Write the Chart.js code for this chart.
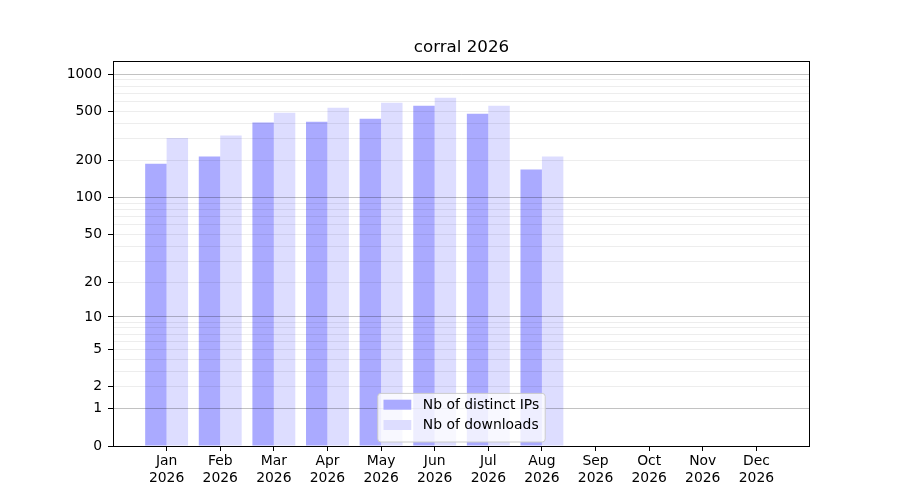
<!DOCTYPE html>
<html>
<head>
<meta charset="utf-8">
<script src="https://cdn.jsdelivr.net/npm/chart.js@4"></script>
<style>
  html, body { margin: 0; padding: 0; background: #fff; }
  #wrap { width: 900px; height: 500px; }
</style>
</head>
<body>
<div id="wrap"><canvas id="chart" width="900" height="500"></canvas></div>
<script>
// data
const monthLabels = ['Jan', 'Feb', 'Mar', 'Apr', 'May', 'Jun', 'Jul', 'Aug', 'Sep', 'Oct', 'Nov', 'Dec'];
const yearLabel = '2026';
const distinctIps = [188, 215, 405, 412, 436, 555, 478, 169];
const downloads = [304, 318, 487, 535, 587, 643, 555, 215];

// y axis is log10(1 + v)
const gridValues = [0, 1, 2, 3, 4, 5, 6, 7, 8, 9, 10, 20, 30, 40, 50, 60, 70, 80, 90,
    100, 200, 300, 400, 500, 600, 700, 800, 900, 1000];
const labelValues = [0, 1, 2, 5, 10, 20, 50, 100, 200, 500, 1000];
const majorValues = [1, 10, 100, 1000];
const yTop = 1273;

const FONT = 'DejaVu Sans';
const tf = v => Math.log10(1 + v);

const toPoints = arr => arr.map((v, i) => ({ x: i, y: tf(v) }));

// matplotlib-ish frame + legend inside the plot
const framePlugin = {
    id: 'frame',
    afterDraw(chart) {
        const { ctx, chartArea: a } = chart;
        ctx.save();
        ctx.strokeStyle = '#000';
        ctx.lineWidth = 1;
        ctx.strokeRect(Math.round(a.left) + 0.5, Math.round(a.top) + 0.5,
            Math.round(a.right - a.left) - 1, Math.round(a.bottom - a.top));

        // legend
        const items = chart.data.datasets.map(d => ({ text: d.label, color: d.backgroundColor }));
        ctx.font = '13.9px "' + FONT + '"';
        const textW = Math.max(...items.map(it => ctx.measureText(it.text).width));
        const w = 45 + textW + 6;
        const h = 48.6;
        const x = (a.left + a.right) / 2 - w / 2;
        const y = a.bottom - 4 - h;
        const r = 3;
        ctx.beginPath();
        ctx.moveTo(x + r, y);
        ctx.arcTo(x + w, y, x + w, y + h, r);
        ctx.arcTo(x + w, y + h, x, y + h, r);
        ctx.arcTo(x, y + h, x, y, r);
        ctx.arcTo(x, y, x + w, y, r);
        ctx.closePath();
        ctx.fillStyle = 'rgba(255,255,255,0.8)';
        ctx.fill();
        ctx.strokeStyle = '#cccccc';
        ctx.stroke();
        items.forEach((it, i) => {
            const cy = y + 11.3 + i * 20.3;
            ctx.fillStyle = it.color;
            ctx.fillRect(x + 5.7, cy - 5, 27.8, 10);
            ctx.fillStyle = '#000';
            ctx.textBaseline = 'middle';
            ctx.textAlign = 'left';
            ctx.fillText(it.text, x + 45, cy + 0.5);
        });
        ctx.restore();
    }
};

new Chart(document.getElementById('chart'), {
    type: 'bar',
    data: {
        datasets: [
            {
                label: 'Nb of distinct IPs',
                data: toPoints(distinctIps),
                backgroundColor: '#aaaaff'
            },
            {
                label: 'Nb of downloads',
                data: toPoints(downloads),
                backgroundColor: '#ddddff'
            }
        ]
    },
    options: {
        responsive: false,
        animation: false,
        categoryPercentage: 0.8,
        barPercentage: 1.0,
        layout: { padding: { left: 0, right: 90, top: 0, bottom: 0 } },
        plugins: {
            legend: { display: false },
            tooltip: { enabled: false },
            title: {
                display: true,
                text: 'corral 2026',
                color: '#000',
                fullSize: false,
                font: { family: FONT, size: 16.7, weight: 'normal' },
                padding: { top: 38, bottom: 3 }
            }
        },
        scales: {
            x: {
                type: 'linear',
                min: -1,
                max: 12,
                offset: false,
                afterBuildTicks: s => { s.ticks = monthLabels.map((m, i) => ({ value: i })); },
                afterFit: s => { s.height = 54; },
                border: { display: false },
                grid: {
                    offset: false,
                    drawOnChartArea: false,
                    tickLength: 5,
                    tickColor: '#000',
                    color: '#000'
                },
                ticks: {
                    autoSkip: false,
                    maxRotation: 0,
                    padding: 2,
                    color: '#000',
                    font: { family: FONT, size: 13.9, lineHeight: 1.2 },
                    callback: (v, i) => [monthLabels[i], yearLabel]
                }
            },
            y: {
                type: 'linear',
                min: 0,
                max: tf(yTop),
                afterBuildTicks: s => { s.ticks = gridValues.map(v => ({ value: tf(v) })); },
                afterFit: s => { s.width = 113; },
                border: { display: false },
                grid: {
                    z: 1,
                    tickLength: 5,
                    color: c => {
                        const v = gridValues[c.index];
                        if (v === 0) return 'rgba(0,0,0,0)';
                        return majorValues.includes(v) ? 'rgba(0,0,0,0.24)' : 'rgba(0,0,0,0.07)';
                    },
                    tickColor: c => labelValues.includes(gridValues[c.index]) ? '#000' : 'rgba(0,0,0,0)'
                },
                ticks: {
                    autoSkip: false,
                    padding: 6,
                    color: '#000',
                    font: { family: FONT, size: 13.9 },
                    callback: (v, i) => labelValues.includes(gridValues[i]) ? String(gridValues[i]) : ''
                }
            }
        }
    },
    plugins: [framePlugin]
});
</script>
</body>
</html>
